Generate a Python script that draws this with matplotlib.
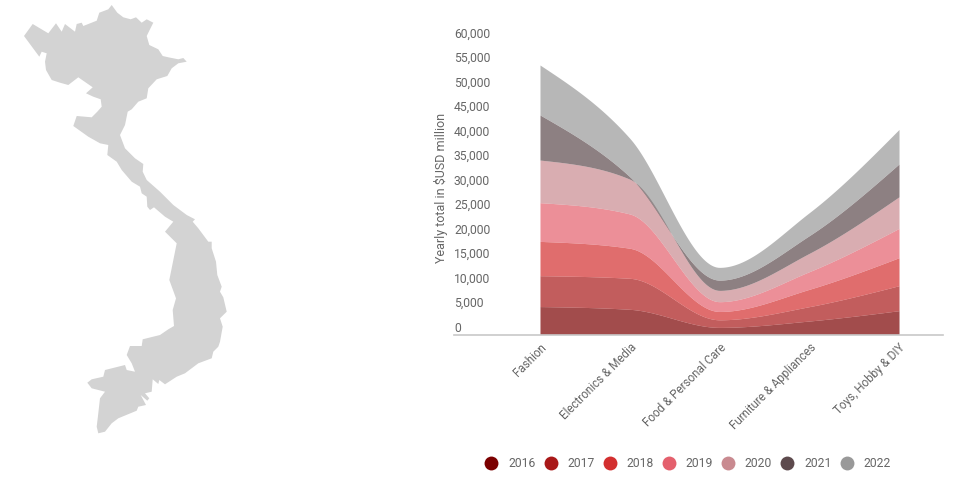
import numpy as np
import matplotlib
matplotlib.use("Agg")
import matplotlib.pyplot as plt
from matplotlib.lines import Line2D
from matplotlib.patches import Polygon

plt.rcParams["font.family"] = ["Roboto", "DejaVu Sans"]

W, H = 956, 487
TEXT_COLOR = "#666666"

categories = ["Fashion", "Electronics & Media", "Food & Personal Care",
              "Furniture & Appliances", "Toys, Hobby & DIY"]
years = ["2016", "2017", "2018", "2019", "2020", "2021", "2022"]
colors = ["#7b0000", "#a91818", "#d32f2f", "#e4606d", "#c98a90", "#5d4a4d", "#999999"]

# $USD million per year, per category
v2016 = [5700, 5140, 1450, 2750, 4860]
v2017 = [6300, 6330, 1550, 2930, 5100]
v2018 = [7000, 6130, 1700, 3540, 5710]
v2019 = [7900, 7000, 2000, 3600, 5980]
v2020 = [8700, 7100, 2300, 3740, 6450]
v2021 = [9200, 500, 2100, 3610, 6700]
v2022 = [10200, 7850, 2600, 4690, 7050]
series = [v2016, v2017, v2018, v2019, v2020, v2021, v2022]

y_ticks = list(range(0, 60001, 5000))

# outline of the map, traced in image pixels
vietnam_outline = [
    (111.7, 5), (117.3, 12.7), (123.3, 17.3), (130.7, 19.3), (136, 17.3), (141.7, 22.7),
    (146.7, 19.3), (153.3, 22.7), (150, 29.3), (146.7, 36), (149.3, 45), (158.3, 49.3),
    (162.7, 56), (168.3, 57.3), (178.3, 59.3), (183.3, 58), (186.7, 61.7), (178.3, 63.3),
    (171.7, 68.3), (167.3, 76), (156.7, 79.3), (148.3, 88.3), (146.7, 98.3), (138.3, 101.7),
    (131.7, 109.3), (127.7, 111.7), (125, 125), (120, 135), (125, 148.3), (135, 158.3),
    (143.3, 164), (142.7, 171.7), (146.7, 180), (160, 191.7), (173.3, 205), (186.7, 215),
    (195, 219.3), (192.7, 221.7), (198.3, 228.3), (208.3, 241.7), (211.7, 241.7),
    (211.7, 248.3), (216, 261.7), (217.3, 275), (221.7, 286.7), (220, 291.7), (223.3, 297.3),
    (226.7, 311.7), (220, 318.3), (222.7, 326.7), (220, 341.7), (218.3, 346.7),
    (213.3, 351.7), (211.7, 358.3), (198.3, 363.3), (185, 373.3), (176.7, 376.7),
    (165, 384.3), (159.3, 380), (158.3, 384), (152.7, 379.3), (151.7, 391.7), (145, 393.3),
    (149.3, 398.3), (147.3, 400.7), (140.7, 395), (146, 405), (138.3, 406.7), (136.7, 410.7),
    (118.3, 418.3), (111.7, 423.3), (105, 431.7), (98.3, 433.3), (96.7, 426.7), (98.3, 413.3),
    (100, 398.3), (105, 391.7), (98.3, 390), (91.7, 388.3), (87.3, 382.7), (91.7, 379.3),
    (103.3, 376.7), (105, 370), (125, 365), (126.7, 370), (135, 371.7), (131.7, 363.3),
    (126.7, 355), (130, 346), (141.7, 346), (142.7, 339.3), (160, 335), (168.3, 329.3),
    (174, 326), (172.7, 310), (176, 298.3), (169.3, 280), (176.7, 243.3), (165, 231.7),
    (173.3, 221.7), (165, 216.7), (154, 207.3), (150, 210), (147.3, 206.7), (146.7, 196.7),
    (141.7, 193.3), (140, 186.7), (131.7, 181.7), (121.7, 170), (116.7, 161.7), (107.3, 155),
    (108.3, 145), (100, 143.3), (88.3, 136.7), (73.3, 126), (76.7, 116), (91.7, 117.3),
    (97.3, 111.7), (101.7, 106.7), (100.7, 99.3), (93.3, 96.7), (86, 93.3), (92.7, 87.3),
    (78.3, 77.3), (68.3, 85), (60, 82.7), (51.7, 80), (46, 70), (45, 61.7), (46.7, 53.3),
    (41.7, 51.7), (39.3, 56.7), (24, 36), (32.7, 24), (48.3, 33.3), (56, 23.3), (61.7, 31.7),
    (65, 24), (75, 31.7), (76.7, 24), (81.7, 22.7), (83.3, 26), (96.7, 20.7), (99.3, 12.7),
    (108.3, 9.3),
]


def monotone_curve(x, y, samples=60):
    """
    Monotone cubic through the points, same as the d3 monotoneX curve
    :return: dense x and y for drawing
    """
    x = np.asarray(x, dtype=float)
    y = np.asarray(y, dtype=float)
    h = np.diff(x)
    s = np.diff(y) / h
    t = np.zeros(len(x))
    for i in range(1, len(x) - 1):
        p = (s[i - 1] * h[i] + s[i] * h[i - 1]) / (h[i - 1] + h[i])
        t[i] = (np.sign(s[i - 1]) + np.sign(s[i])) * min(abs(s[i - 1]), abs(s[i]), 0.5 * abs(p))
    t[0] = (3 * s[0] - t[1]) / 2
    t[-1] = (3 * s[-1] - t[-2]) / 2

    xs, ys = [], []
    for i in range(len(h)):
        u = np.linspace(0, 1, samples)
        ys.append((2 * u ** 3 - 3 * u ** 2 + 1) * y[i] + (u ** 3 - 2 * u ** 2 + u) * h[i] * t[i]
                  + (-2 * u ** 3 + 3 * u ** 2) * y[i + 1] + (u ** 3 - u ** 2) * h[i] * t[i + 1])
        xs.append(x[i] + u * h[i])
    return np.concatenate(xs), np.concatenate(ys)


fig = plt.figure(figsize=(W / 100, H / 100), dpi=100)

# map sits in an axes that just uses pixel coordinates
map_ax = fig.add_axes([0, 0, 1, 1])
map_ax.set_xlim(0, W)
map_ax.set_ylim(H, 0)
map_ax.axis("off")
map_ax.add_patch(Polygon(vietnam_outline, closed=True, facecolor="#d3d3d3", edgecolor="none"))

ax = fig.add_axes([454 / W, 1 - 334.5 / H, (943 - 454) / W, 294 / H])
ax.patch.set_alpha(0)

positions = np.arange(len(categories))
lower = np.zeros(len(categories))
for values, color in zip(series, colors):
    upper = lower + np.array(values)
    xs, y0 = monotone_curve(positions, lower)
    xs, y1 = monotone_curve(positions, upper)
    ax.fill_between(xs, y0, y1, color=color, alpha=0.7, linewidth=0)
    lower = upper

ax.set_xlim(-0.958, 4.49)
ax.set_ylim(0, 60000)

for side in ["top", "right", "left"]:
    ax.spines[side].set_visible(False)
ax.spines["bottom"].set_color("#c8c8c8")
ax.spines["bottom"].set_linewidth(1.2)

ax.set_yticks(y_ticks)
ax.set_yticklabels(["{:,}".format(v) for v in y_ticks], fontsize=8.7, color=TEXT_COLOR,
                   ha="left", va="bottom")
ax.tick_params(axis="y", length=0, pad=0)

ax.set_xticks(positions)
ax.set_xticklabels(categories, fontsize=8.4, color=TEXT_COLOR, rotation=45,
                   ha="right", va="top", rotation_mode="anchor")
ax.tick_params(axis="x", length=0, pad=4.8)

fig.text(441.5 / W, 1 - 187.5 / H, "Yearly total in $USD million", rotation=90, fontsize=9,
         color=TEXT_COLOR, ha="center", va="center", parse_math=False)

handles = [Line2D([], [], linestyle="none", marker="o", markersize=10, color=c,
                  markeredgewidth=0) for c in colors]
fig.legend(handles, years, ncol=7, loc="center", bbox_to_anchor=(688 / W, 1 - 463.5 / H),
           frameon=False, fontsize=8.7, labelcolor=TEXT_COLOR, handlelength=1,
           handletextpad=0.88, columnspacing=0.76)

fig.savefig("out.png", dpi=100)
